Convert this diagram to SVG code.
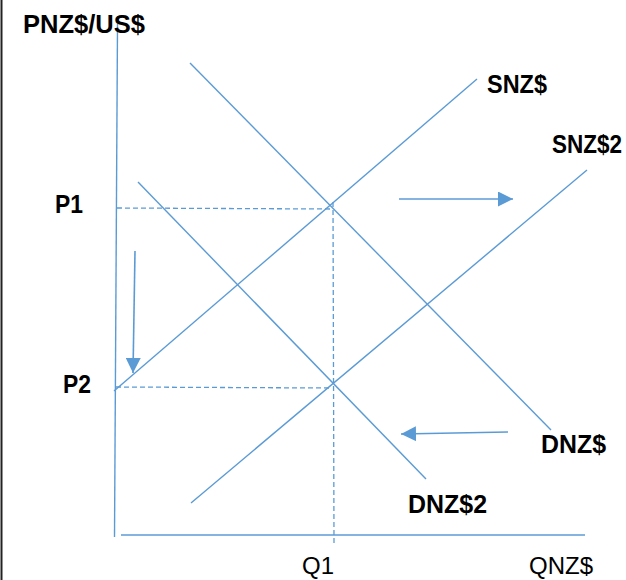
<svg xmlns="http://www.w3.org/2000/svg" width="626" height="580" viewBox="0 0 626 580">
<style>
.ln{stroke:#5B9BD5;stroke-width:1.4;fill:none}
.ds{stroke:#5B9BD5;stroke-width:1.3;fill:none;stroke-dasharray:5,3}
.ar{stroke:#5B9BD5;stroke-width:1.6;fill:none}
.b{font-family:"Liberation Sans",Arial,sans-serif;font-weight:bold;font-size:26px;fill:#000}
.r{font-family:"Liberation Sans",Arial,sans-serif;font-size:24.5px;fill:#000}
</style>
<defs>
<marker id="ah" viewBox="0 0 15 15" refX="15" refY="7.5" markerWidth="15" markerHeight="15" markerUnits="userSpaceOnUse" orient="auto">
<path d="M0,0 L15,7.5 L0,15 Z" fill="#5B9BD5"/>
</marker>
</defs>
<rect width="626" height="580" fill="#fff"/>
<line x1="1.5" y1="0" x2="1.5" y2="580" stroke="#222" stroke-width="2"/>
<g id="axes">
<line class="ln" x1="117.5" y1="24" x2="114.5" y2="537"/>
<line class="ln" x1="121" y1="535" x2="585" y2="535"/>
</g>
<g id="guides">
<line class="ds" x1="117" y1="208" x2="332" y2="209"/>
<line class="ds" x1="116" y1="387" x2="332" y2="388"/>
<line class="ds" x1="333" y1="202" x2="334" y2="543"/>
</g>
<g id="SNZ">
<line class="ln" x1="114" y1="391" x2="477" y2="79"/>
<text class="b" x="487" y="93" textLength="60" lengthAdjust="spacingAndGlyphs">SNZ$</text>
</g>
<g id="SNZ2">
<line class="ln" x1="191" y1="503" x2="587" y2="170"/>
<text class="b" transform="translate(552,153) scale(1,1.15)" x="0" y="0" style="font-size:22.5px">SNZ$2</text>
</g>
<g id="DNZ">
<line class="ln" x1="190" y1="63" x2="551" y2="430"/>
<text class="b" x="541" y="453" textLength="65" lengthAdjust="spacingAndGlyphs">DNZ$</text>
</g>
<g id="DNZ2">
<line class="ln" x1="138" y1="182" x2="426" y2="479"/>
<text class="b" x="408" y="513" textLength="79" lengthAdjust="spacingAndGlyphs">DNZ$2</text>
</g>
<g id="labels">
<text class="b" x="23" y="33" textLength="122" lengthAdjust="spacingAndGlyphs">PNZ$/US$</text>
<text class="b" x="55" y="213" textLength="28" lengthAdjust="spacingAndGlyphs">P1</text>
<text class="b" x="63" y="393" textLength="28" lengthAdjust="spacingAndGlyphs">P2</text>
<text class="r" x="302" y="574" textLength="32" lengthAdjust="spacingAndGlyphs">Q1</text>
<text class="r" x="529" y="574" textLength="64" lengthAdjust="spacingAndGlyphs">QNZ$</text>
</g>
<g id="connectors">
<line class="ar" x1="399" y1="199" x2="513" y2="199" marker-end="url(#ah)"/>
<line class="ar" x1="135" y1="251" x2="133" y2="373" marker-end="url(#ah)"/>
<line class="ar" x1="508" y1="432" x2="401" y2="434" marker-end="url(#ah)"/>
</g>
</svg>
